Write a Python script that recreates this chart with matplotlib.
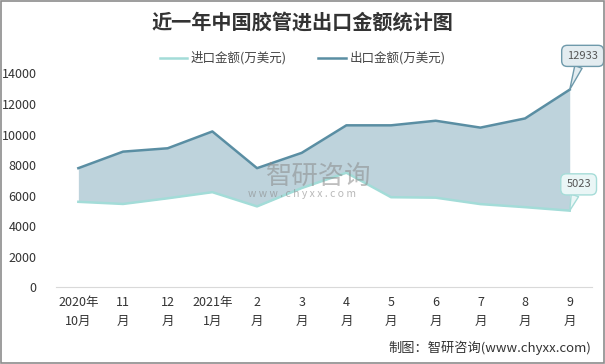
import matplotlib.pyplot as plt
import numpy as np

plt.rcParams['font.family'] = ['Noto Sans CJK SC', 'DejaVu Sans']

months = ["2020年\n10月", "11\n月", "12\n月", "2021年\n1月", "2\n月", "3\n月",
          "4\n月", "5\n月", "6\n月", "7\n月", "8\n月", "9\n月"]
imports = [5600, 5460, 5830, 6230, 5300, 6500, 7500, 5900, 5870, 5450, 5250, 5023]
exports = [7800, 8880, 9100, 10200, 7800, 8800, 10600, 10600, 10900, 10450, 11050, 12933]

c_imp = "#a3dcd8"
c_exp = "#5a8ea3"
c_fill = "#bed3dc"

fig = plt.figure(figsize=(6.05, 3.64), dpi=100)
ax = fig.add_axes([0.0926, 0.2102, 0.886, 0.5884])

x = np.arange(len(months))
ax.fill_between(x, imports, exports, color=c_fill, lw=0)
ax.plot(x, imports, color=c_imp, lw=1.8, label="进口金额(万美元)")
ax.plot(x, exports, color=c_exp, lw=1.8, label="出口金额(万美元)")

ax.set_xlim(-0.5, len(months) - 0.5)
ax.set_ylim(0, 14000)
ax.set_yticks(np.arange(0, 14001, 2000))
ax.set_xticks(x)
ax.set_xticklabels(months, fontsize=9, color="#333333", linespacing=1.6)
ax.tick_params(axis='y', labelsize=9, labelcolor="#333333", length=0, pad=14)
ax.tick_params(axis='x', length=0, pad=6)
for s in ["top", "right", "left"]:
    ax.spines[s].set_visible(False)
ax.spines["bottom"].set_color("#d9d9d9")

# callouts
ax.annotate(f"{exports[-1]}", xy=(x[-1], exports[-1]), xytext=(x[-1] + 0.29, 15140),
            ha='center', va='center', fontsize=8, color="#555555", annotation_clip=False,
            bbox=dict(boxstyle="round,pad=0.5", fc="#e3ecf0", ec="#6f9aab", lw=1),
            arrowprops=dict(arrowstyle="wedge,tail_width=0.7", fc="#e3ecf0", ec="#6f9aab",
                            lw=1, shrinkA=0, shrinkB=0))
ax.annotate(f"{imports[-1]}", xy=(x[-1], imports[-1]), xytext=(x[-1] + 0.2, 6740),
            ha='center', va='center', fontsize=8, color="#555555", annotation_clip=False,
            bbox=dict(boxstyle="round,pad=0.5", fc="#eaf6f6", ec="#a6dcd8", lw=1),
            arrowprops=dict(arrowstyle="wedge,tail_width=0.7", fc="#eaf6f6", ec="#a6dcd8",
                            lw=1, shrinkA=0, shrinkB=0))

# watermark
fig.text(0.526, 0.516, "智研咨询", fontsize=19, color="#8a8a8a", alpha=0.55, ha='center', va='center')
fig.text(0.5, 0.467, "w w w . c h y x x . c o m", fontsize=7.5, color="#8a8a8a", alpha=0.6,
         ha='center', va='center')

fig.text(0.5, 0.94, "近一年中国胶管进出口金额统计图", fontsize=14.5, fontweight='bold',
         color="#333333", ha='center', va='center')
fig.legend(loc='center', bbox_to_anchor=(0.5, 0.84), ncol=2, frameon=False, fontsize=9,
           handlelength=2.2, columnspacing=2.5, handletextpad=0.3, labelcolor="#444444")
fig.text(0.977, 0.045, "制图：智研咨询(www.chyxx.com)", fontsize=9.5, color="#333333",
         ha='right', va='center')

fig.add_artist(plt.Rectangle((0.001, 0.002), 0.997, 0.995, transform=fig.transFigure,
                             fill=False, ec="#8c8c8c", lw=1.2))

fig.savefig("out.png", dpi=100)
